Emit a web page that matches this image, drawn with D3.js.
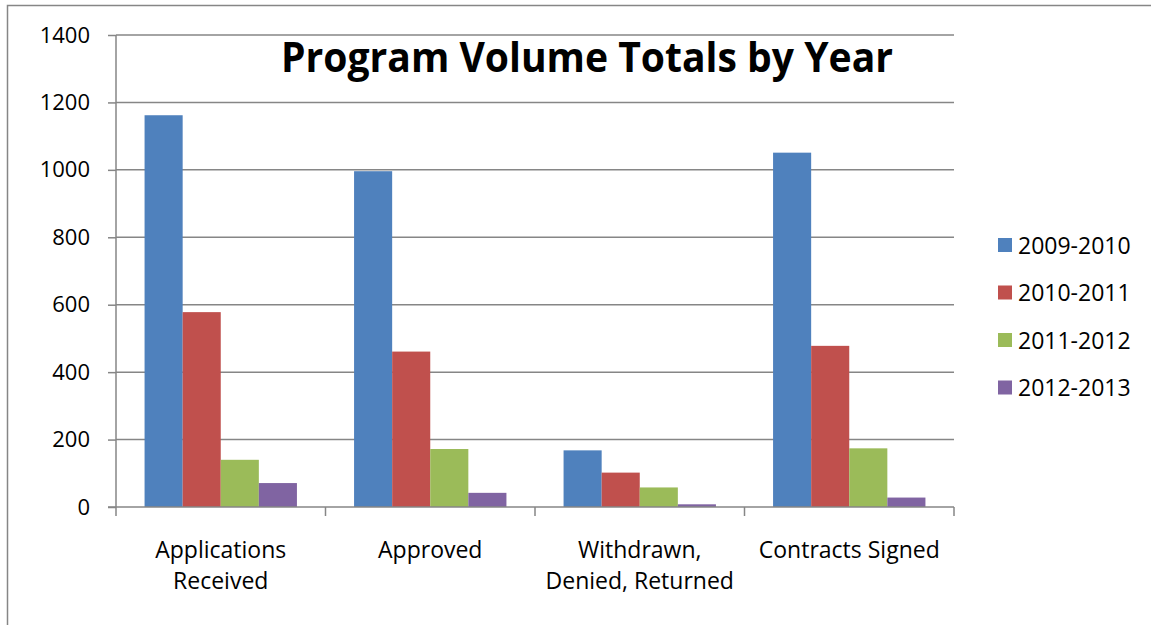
<!DOCTYPE html>
<html>
<head>
<meta charset="utf-8">
<script src="https://cdn.jsdelivr.net/npm/d3@7"></script>
<style>
  body { margin: 0; background: #fff; overflow: hidden; }
  text { font-family: "Open Sans", sans-serif; fill: #000; }
</style>
</head>
<body>
<svg id="chart"></svg>
<script>
// chart data
const categories = [["Applications", "Received"], ["Approved"], ["Withdrawn,", "Denied, Returned"], ["Contracts Signed"]]
const seriesNames = ["2009-2010", "2010-2011", "2011-2012", "2012-2013"]
const values = {
    "2009-2010": [1162, 996, 168, 1051],
    "2010-2011": [578, 461, 102, 478],
    "2011-2012": [140, 172, 58, 174],
    "2012-2013": [71, 42, 8, 28],
}
const colors = ["#4F81BD", "#C0504D", "#9BBB59", "#8064A2"]
const yTicks = [0, 200, 400, 600, 800, 1000, 1200, 1400]

const width = 1151, height = 625
const plot = { left: 116, right: 954, top: 35, bottom: 507 }

const svg = d3.select("#chart").attr("width", width).attr("height", height)

// outer chart frame
svg.append("rect")
    .attr("x", 7.5).attr("y", 5.5)
    .attr("width", 1300).attr("height", 800)
    .attr("fill", "none").attr("stroke", "#868686").attr("stroke-width", 1.5)

const y = d3.scaleLinear().domain([0, 1400]).range([plot.bottom, plot.top])
const x0 = d3.scaleBand().domain(d3.range(categories.length)).range([plot.left, plot.right])
// excel style gap width 150%
const bw = x0.bandwidth()
const gap = bw * 0.75 / 5.5
const x1 = d3.scaleBand().domain(seriesNames).range([gap, bw - gap])

// gridlines
svg.append("g").selectAll("line").data(yTicks.slice(1)).enter().append("line")
    .attr("x1", plot.left).attr("x2", plot.right)
    .attr("y1", d => y(d)).attr("y2", d => y(d))
    .attr("stroke", "#868686").attr("stroke-width", 1.5)

// bars
const groups = svg.append("g").selectAll("g").data(categories).enter().append("g")
    .attr("transform", (d, i) => `translate(${x0(i)},0)`)
groups.selectAll("rect")
    .data((d, i) => seriesNames.map((s, k) => ({ s, k, v: values[s][i] })))
    .enter().append("rect")
    .attr("x", d => x1(d.s))
    .attr("width", x1.bandwidth())
    .attr("y", d => y(d.v))
    .attr("height", d => y(0) - y(d.v))
    .attr("fill", d => colors[d.k])

// y axis
const yAxis = d3.axisLeft(y).tickValues(yTicks).tickSize(8).tickPadding(18).tickFormat(d3.format("d"))
const yg = svg.append("g").attr("transform", `translate(${plot.left},0)`).call(yAxis)
yg.selectAll("line, path").attr("stroke", "#868686").attr("stroke-width", 1.5)
yg.select(".domain").attr("d", `M0,${plot.top}V${plot.bottom}`)
yg.selectAll("text").attr("font-size", 22).attr("font-family", "Open Sans").attr("fill", "#000")

// x axis line and boundary ticks
svg.append("line")
    .attr("x1", plot.left - 8).attr("x2", plot.right)
    .attr("y1", plot.bottom).attr("y2", plot.bottom)
    .attr("stroke", "#868686").attr("stroke-width", 1.5)
svg.append("g").selectAll("line").data(d3.range(categories.length + 1)).enter().append("line")
    .attr("x1", i => plot.left + i * bw).attr("x2", i => plot.left + i * bw)
    .attr("y1", plot.bottom).attr("y2", plot.bottom + 9)
    .attr("stroke", "#868686").attr("stroke-width", 1.5)

// category labels
const catText = svg.append("g").selectAll("text").data(categories).enter().append("text")
    .attr("text-anchor", "middle")
    .attr("font-size", 23)
catText.selectAll("tspan").data((d, i) => d.map(line => ({ line, i }))).enter().append("tspan")
    .attr("x", d => x0(d.i) + bw / 2)
    .attr("y", (d, j) => 558 + j * 31)
    .text(d => d.line)

// title
svg.append("text")
    .attr("x", 587).attr("y", 72)
    .attr("text-anchor", "middle")
    .attr("font-size", 41).attr("font-weight", "bold")
    .attr("textLength", 612).attr("lengthAdjust", "spacingAndGlyphs")
    .text("Program Volume Totals by Year")

// legend
const legend = svg.append("g").selectAll("g").data(seriesNames).enter().append("g")
    .attr("transform", (d, i) => `translate(998,${245 + i * 47.5})`)
legend.append("rect")
    .attr("x", 0).attr("y", -7).attr("width", 14).attr("height", 14)
    .attr("fill", (d, i) => colors[i])
legend.append("text")
    .attr("x", 20).attr("y", 8.5)
    .attr("font-size", 23)
    .text(d => d)
</script>
</body>
</html>
